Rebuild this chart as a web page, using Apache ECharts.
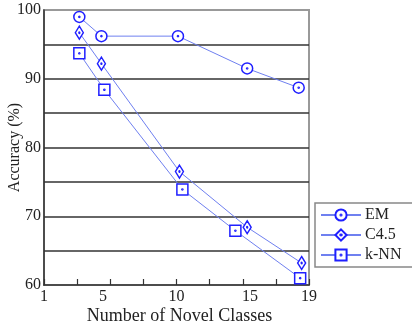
<!DOCTYPE html>
<html>
<head>
<meta charset="utf-8">
<script src="https://cdn.jsdelivr.net/npm/echarts@6/dist/echarts.min.js"></script>
<style>
  html, body { margin: 0; padding: 0; background: #fff; }
  #chart { width: 412px; height: 331px; }
</style>
</head>
<body>
<div id="chart"></div>
<script>
// Accuracy of each classifier against the number of novel classes
const seriesNames = ['EM', 'C4.5', 'k-NN'];
const emClasses   = [3.4, 4.9, 10.1, 14.8, 18.3];
const emAccuracy  = [99.0, 96.2, 96.2, 91.5, 88.7];
const c45Classes  = [3.4, 4.9, 10.2, 14.8, 18.5];
const c45Accuracy = [96.7, 92.2, 76.5, 68.4, 63.2];
const knnClasses  = [3.4, 5.1, 10.4, 14.0, 18.4];
const knnAccuracy = [93.7, 88.4, 73.9, 67.9, 61.0];
const xTickLabels = [1, 5, 10, 15, 19];
const yTickLabels = [60, 70, 80, 90, 100];

const SERIF = '"Liberation Serif", "Times New Roman", serif';
const MARK = '#1f1fff';
const LINE = '#6f80f0';

// hollow markers with a small centre dot
const dot = ' M0.5,0 A0.5,0.5 0 1,1 -0.5,0 A0.5,0.5 0 1,1 0.5,0 Z';
const symCircle  = 'path://M0,-5 A5,5 0 1,1 0,5 A5,5 0 1,1 0,-5 Z' + dot;
const symDiamond = 'path://M0,-6 L3.5,0 L0,6 L-3.5,0 Z' + dot;
const symSquare  = 'path://M-5,-5 L5,-5 L5,5 L-5,5 Z' + dot;

function pairs(xs, ys) { return xs.map((x, i) => [x, ys[i]]); }

function makeSeries(name, xs, ys, symbol, size) {
  return {
    name: name,
    type: 'line',
    data: pairs(xs, ys),
    symbol: symbol,
    symbolSize: size,
    showAllSymbol: true,
    lineStyle: { color: LINE, width: 1 },
    itemStyle: { color: '#fff', borderColor: MARK, borderWidth: 1.5 },
    emphasis: { disabled: true },
    animation: false
  };
}

const chart = echarts.init(document.getElementById('chart'), null, { renderer: 'canvas' });

// minor ticks split the 1..19 range into eight equal steps
const xTickValues = [];
for (let k = 0; k <= 8; k++) xTickValues.push(1 + k * 2.25);

chart.setOption({
  backgroundColor: '#fff',
  animation: false,
  grid: {
    left: 44, right: 103, top: 10, bottom: 46,
    outerBoundsMode: 'none',
    containLabel: false,
    show: true, borderColor: '#999', borderWidth: 2, backgroundColor: '#fff'
  },
  legend: {
    data: seriesNames,
    orient: 'vertical',
    left: 315, top: 203,
    padding: [4, 20, 4, 5],
    itemGap: 4,
    itemWidth: 40,
    itemHeight: 14,
    borderColor: '#888',
    borderWidth: 1.5,
    backgroundColor: '#fff',
    textStyle: { fontFamily: SERIF, fontSize: 16, color: '#222', padding: [0, 0, 0, -1] }
  },
  xAxis: {
    type: 'value',
    min: 1, max: 19,
    name: 'Number of Novel Classes',
    nameLocation: 'middle',
    nameGap: 22,
    nameMoveOverlap: false,
    nameTextStyle: { fontFamily: SERIF, fontSize: 18, color: '#222', padding: [0, 0, 0, 6] },
    axisLine: { show: true, lineStyle: { color: '#333', width: 1.5 } },
    axisTick: { show: true, inside: true, length: 6, customValues: xTickValues, lineStyle: { color: '#333', width: 1.2 } },
    axisLabel: {
      customValues: xTickLabels,
      fontFamily: SERIF, fontSize: 16, color: '#222', margin: 4
    },
    splitLine: { show: false }
  },
  yAxis: {
    type: 'value',
    min: 60, max: 100, interval: 5,
    name: 'Accuracy (%)',
    nameLocation: 'middle',
    nameGap: 21,
    nameMoveOverlap: false,
    nameTextStyle: { fontFamily: SERIF, fontSize: 16, color: '#222' },
    axisLine: { show: true, lineStyle: { color: '#333', width: 1.5 } },
    axisTick: { show: false },
    axisLabel: {
      customValues: yTickLabels,
      fontFamily: SERIF, fontSize: 16, color: '#222', margin: 3
    },
    splitLine: { show: true, showMinLine: false, showMaxLine: false, lineStyle: { color: '#333', width: 1.5 } }
  },
  series: [
    makeSeries(seriesNames[0], emClasses, emAccuracy, symCircle, 11),
    makeSeries(seriesNames[1], c45Classes, c45Accuracy, symDiamond, [8, 13]),
    makeSeries(seriesNames[2], knnClasses, knnAccuracy, symSquare, 11)
  ]
});
</script>
</body>
</html>
